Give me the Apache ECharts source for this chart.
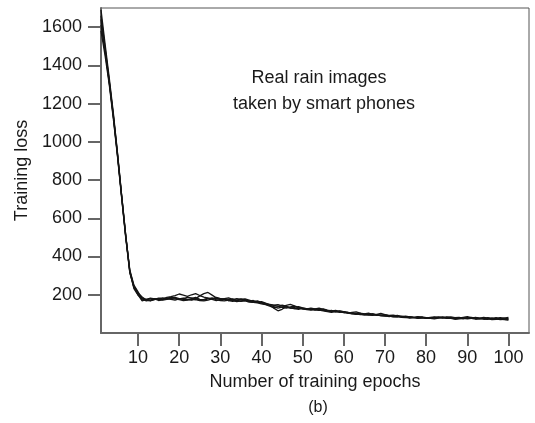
<!DOCTYPE html>
<html>
<head>
<meta charset="utf-8">
<title>Training loss</title>
<script src="https://cdn.jsdelivr.net/npm/echarts@6/dist/echarts.min.js"></script>
<style>
  html, body { margin: 0; padding: 0; background: #fff; }
  #chart { width: 535px; height: 423px; }
</style>
</head>
<body>
<div id="chart"></div>
<script>
// epochs 1..100
const epochs = [];
for (let e = 1; e <= 100; e++) epochs.push(e);

const xTicks = [10, 20, 30, 40, 50, 60, 70, 80, 90, 100];
const yTicks = [200, 400, 600, 800, 1000, 1200, 1400, 1600];

const run1 = [
  1690, 1510, 1335, 1150, 945, 725, 512, 318, 232, 198,
  182, 176, 170, 174, 180, 184, 178, 182, 186, 180,
  176, 174, 180, 186, 176, 172, 178, 184, 175, 170,
  168, 172, 178, 170, 165, 168, 162, 160, 158, 152,
  148, 140, 132, 138, 146, 140, 132, 128, 130, 126,
  124, 128, 122, 118, 120, 116, 112, 114, 110, 106,
  108, 104, 100, 102, 98, 96, 100, 94, 92, 96,
  90, 88, 92, 86, 84, 86, 82, 80, 84, 80,
  78, 82, 80, 84, 78, 76, 80, 82, 78, 74,
  76, 80, 76, 72, 74, 78, 74, 70, 72, 76
];
const run2 = [
  1610, 1470, 1310, 1130, 930, 715, 505, 325, 245, 210,
  188, 172, 168, 176, 182, 178, 186, 190, 196, 204,
  198, 192, 200, 206, 196, 188, 182, 178, 186, 180,
  176, 170, 174, 180, 176, 172, 166, 170, 162, 156,
  150, 144, 138, 130, 136, 144, 150, 142, 134, 128,
  126, 122, 126, 130, 124, 118, 114, 118, 112, 108,
  104, 108, 110, 104, 100, 98, 94, 98, 102, 96,
  92, 94, 90, 86, 88, 84, 82, 86, 82, 78,
  80, 78, 82, 80, 84, 80, 76, 78, 82, 86,
  80, 76, 78, 82, 78, 74, 76, 80, 78, 74
];
const run3 = [
  1660, 1490, 1320, 1140, 940, 720, 508, 330, 250, 215,
  178, 168, 172, 178, 174, 176, 180, 176, 172, 178,
  182, 176, 172, 180, 194, 206, 212, 198, 184, 176,
  180, 184, 176, 170, 174, 178, 172, 166, 160, 164,
  156, 146, 130, 116, 124, 138, 132, 128, 124, 130,
  128, 124, 120, 124, 118, 114, 118, 112, 108, 110,
  106, 102, 98, 102, 98, 94, 92, 96, 90, 88,
  90, 86, 84, 88, 84, 80, 82, 78, 80, 76,
  78, 80, 84, 80, 76, 78, 74, 76, 80, 76,
  78, 82, 78, 74, 72, 76, 80, 74, 70, 68
];
const run4 = [
  1580, 1450, 1300, 1120, 925, 710, 500, 315, 240, 205,
  172, 174, 178, 180, 176, 172, 176, 180, 178, 174,
  170, 172, 176, 174, 170, 168, 172, 178, 182, 180,
  174, 170, 166, 172, 178, 174, 168, 164, 168, 160,
  152, 148, 144, 140, 134, 130, 136, 140, 132, 126,
  122, 120, 124, 120, 116, 112, 108, 112, 116, 110,
  104, 100, 102, 98, 94, 96, 100, 96, 92, 90,
  88, 84, 86, 82, 80, 84, 80, 76, 78, 80,
  76, 74, 78, 82, 80, 76, 72, 74, 78, 80,
  76, 72, 74, 78, 74, 70, 72, 76, 72, 70
];
const run5 = [
  1640, 1480, 1315, 1135, 935, 722, 515, 322, 238, 200,
  168, 176, 182, 178, 170, 174, 182, 186, 182, 176,
  180, 186, 184, 178, 172, 176, 182, 176, 170, 174,
  178, 176, 170, 164, 168, 172, 166, 160, 164, 158,
  154, 150, 146, 148, 142, 136, 130, 134, 138, 132,
  126, 130, 126, 122, 126, 120, 116, 110, 114, 112,
  108, 106, 100, 96, 100, 104, 98, 92, 94, 92,
  86, 90, 88, 84, 82, 78, 80, 84, 82, 78,
  82, 84, 80, 78, 82, 84, 80, 76, 74, 78,
  82, 78, 74, 76, 80, 76, 72, 74, 78, 82
];

const runs = [run1, run2, run3, run4, run5];

const chart = echarts.init(document.getElementById('chart'));
const font = 'Liberation Sans, Arial, sans-serif';
const axisColor = '#666';

chart.setOption({
  backgroundColor: '#fff',
  animation: false,
  grid: {
    left: 101,
    right: 6,
    top: 8,
    bottom: 90,
    show: true,
    borderColor: '#555',
    borderWidth: 1
  },
  xAxis: {
    type: 'value',
    min: 1,
    max: 105,
    name: 'Number of training epochs',
    nameLocation: 'middle',
    nameGap: 40,
    nameTextStyle: { color: '#1a1a1a', fontSize: 18, fontFamily: font },
    axisLine: { show: true, lineStyle: { color: axisColor, width: 2 } },
    axisTick: { show: true, length: 13, customValues: xTicks, lineStyle: { color: axisColor, width: 2 } },
    axisLabel: { customValues: xTicks, margin: 16, color: '#1a1a1a', fontSize: 18, fontFamily: font },
    splitLine: { show: false }
  },
  yAxis: {
    type: 'value',
    min: 0,
    max: 1700,
    name: 'Training loss',
    nameLocation: 'middle',
    nameGap: 60,
    nameTextStyle: { color: '#1a1a1a', fontSize: 18, fontFamily: font },
    axisLine: { show: true, lineStyle: { color: axisColor, width: 2 } },
    axisTick: { show: true, length: 13, customValues: yTicks, lineStyle: { color: axisColor, width: 2 } },
    axisLabel: {
      customValues: yTicks, margin: 19, color: '#1a1a1a', fontSize: 18, fontFamily: font,
      formatter: function (v) { return String(v); }
    },
    splitLine: { show: false }
  },
  series: runs.map(function (r, i) {
    return {
      name: 'run' + (i + 1),
      type: 'line',
      data: epochs.map(function (e, k) { return [e, r[k]]; }),
      showSymbol: false,
      lineStyle: { color: '#151515', width: 1.3 }
    };
  }),
  graphic: [
    {
      type: 'text', x: 319, y: 78,
      style: { text: 'Real rain images', fill: '#1a1a1a', fontSize: 18, fontFamily: font, align: 'center', verticalAlign: 'middle' }
    },
    {
      type: 'text', x: 324, y: 104,
      style: { text: 'taken by smart phones', fill: '#1a1a1a', fontSize: 18, fontFamily: font, align: 'center', verticalAlign: 'middle' }
    },
    {
      type: 'text', x: 318, y: 408,
      style: { text: '(b)', fill: '#1a1a1a', fontSize: 16, fontFamily: font, align: 'center', verticalAlign: 'middle' }
    }
  ]
});
</script>
</body>
</html>
